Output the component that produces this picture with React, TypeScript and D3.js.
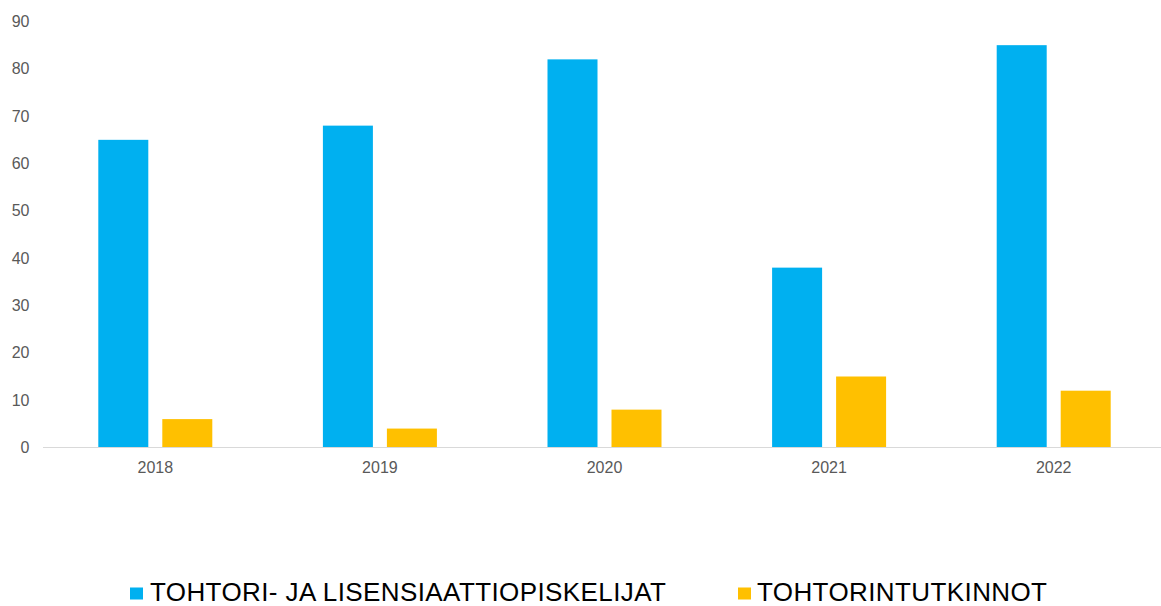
import React from "react";
import * as d3 from "d3";

const categories = ["2018", "2019", "2020", "2021", "2022"];
const seriesNames = ["TOHTORI- JA LISENSIAATTIOPISKELIJAT", "TOHTORINTUTKINNOT"];
const studentsValues = [65, 68, 82, 38, 85];
const degreesValues = [6, 4, 8, 15, 12];
const yTicks = [0, 10, 20, 30, 40, 50, 60, 70, 80, 90];
const colors = ["#00B0F0", "#FFC000"];

export default function App() {
  const W = 1161;
  const H = 606;
  const x0 = 43;
  const x1 = 1166;
  const yBase = 447.5;
  const yTop = 21.5;
  const x = d3.scaleBand().domain(categories).range([x0, x1]).paddingInner(0).paddingOuter(0);
  const y = d3.scaleLinear().domain([0, 90]).range([yBase, yTop]);
  const barW = 50;
  const gap = 14;
  const series = [studentsValues, degreesValues];
  const font = "'Liberation Sans', Arial, sans-serif";
  const legendX = [130, 738];
  const legendTextX = [150, 757];

  return (
    <svg width={W} height={H} style={{ position: "absolute", left: 0, top: 0, background: "#fff" }}>
      {yTicks.map((t) => (
        <text key={t} x={29.5} y={y(t)} dy="0.35em" textAnchor="end" fontFamily={font} fontSize={16} fill="#595959">
          {t}
        </text>
      ))}
      {series.map((vals, si) =>
        vals.map((v, i) => {
          const c = x(categories[i])! + x.bandwidth() / 2;
          const left = si === 0 ? c - gap / 2 - barW : c + gap / 2;
          return <rect key={si + "-" + i} x={left} y={y(v)} width={barW} height={yBase - y(v)} fill={colors[si]} />;
        })
      )}
      <line x1={x0} x2={W} y1={yBase} y2={yBase} stroke="#D9D9D9" strokeWidth={1} />
      {categories.map((c) => (
        <text key={c} x={x(c)! + x.bandwidth() / 2} y={467} dy="0.35em" textAnchor="middle" fontFamily={font} fontSize={16} fill="#595959">
          {c}
        </text>
      ))}
      {seriesNames.map((name, si) => (
        <g key={name}>
          <rect x={legendX[si]} y={587.5} width={13} height={12} fill={colors[si]} />
          <text x={legendTextX[si]} y={601} fontFamily={font} fontSize={26} letterSpacing={0.4} fill="#000">
            {name}
          </text>
        </g>
      ))}
    </svg>
  );
}
